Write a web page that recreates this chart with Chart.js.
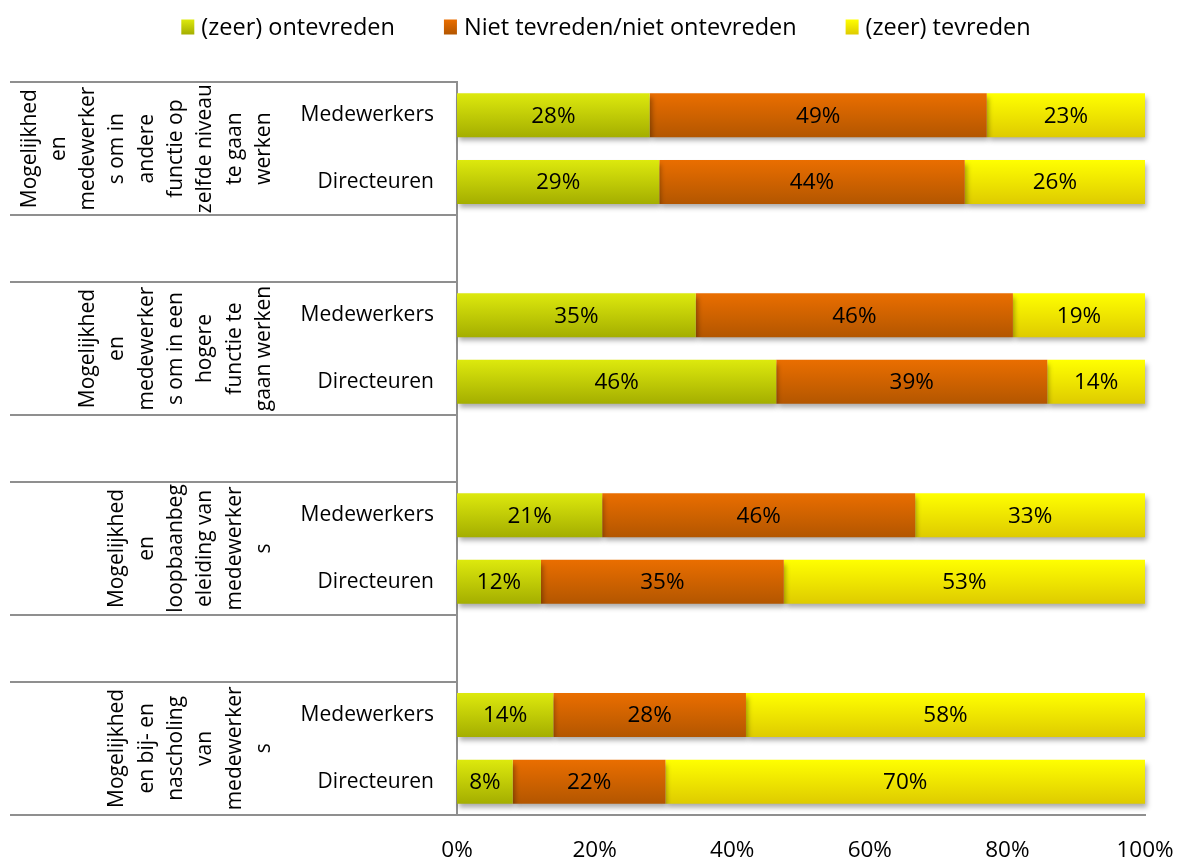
<!DOCTYPE html>
<html><head><meta charset="utf-8">
<script src="https://cdn.jsdelivr.net/npm/chart.js@4"></script>
<style>html,body{margin:0;padding:0;background:#fff}#wrap{width:1179px;height:859px;position:relative}</style>
</head><body><div id="wrap"><canvas id="c" width="1179" height="859"></canvas></div>
<script>
// ---- data ----
const categories = ['Medewerkers','Directeuren','','Medewerkers','Directeuren','','Medewerkers','Directeuren','','Medewerkers','Directeuren'];
const seriesNames = ['(zeer) ontevreden','Niet tevreden/niet ontevreden','(zeer) tevreden'];
const ontevreden = [28, 29.4, null, 34.7, 46.4, null, 21.1, 12.2, null, 14, 8.1];
const neutraal   = [49, 44.4, null, 46.1, 39.4, null, 45.5, 35.3, null, 28, 22.2];
const tevreden   = [23, 26.2, null, 19.2, 14.2, null, 33.4, 52.5, null, 58, 69.7];
const groupLabels = [
  ['Mogelijkhed','en','medewerker','s om in','andere','functie op','zelfde niveau','te gaan','werken'],
  ['Mogelijkhed','en','medewerker','s om in een','hogere','functie te','gaan werken'],
  ['Mogelijkhed','en','loopbaanbeg','eleiding van','medewerker','s'],
  ['Mogelijkhed','en bij- en','nascholing','van','medewerker','s']
];
const groupRows = [[0,1],[3,4],[6,7],[9,10]];
const xTickValues = [0,20,40,60,80,100];

// ---- styles ----
const FONT = '"Open Sans", "DejaVu Sans", sans-serif';
const BAR_PCT = 0.66;
const colors = [
  ['#dde90d', '#a4ae00'],
  ['#ea6e00', '#b35600'],
  ['#ffff00', '#decb00']
];
function grad(top, bottom){
  return (c) => {
    const chart = c.chart; const ys = chart.scales && chart.scales.y;
    if (!ys || !chart.chartArea || c.dataIndex === undefined) return top;
    const step = Math.abs(ys.getPixelForValue(1) - ys.getPixelForValue(0));
    const cy = ys.getPixelForValue(c.dataIndex);
    const h = step * BAR_PCT / 2;
    const g = chart.ctx.createLinearGradient(0, cy - h, 0, cy + h);
    g.addColorStop(0, top); g.addColorStop(1, bottom);
    return g;
  };
}

const decor = {
  id: 'decor',
  beforeDatasetsDraw(chart){
    const ctx = chart.ctx; ctx.save();
    ctx.shadowColor = 'rgba(0,0,0,0.33)'; ctx.shadowBlur = 5; ctx.shadowOffsetX = 2; ctx.shadowOffsetY = 4;
  },
  afterDatasetsDraw(chart){
    const ctx = chart.ctx; ctx.restore();
    ctx.save();
    ctx.font = '22.5px ' + FONT; ctx.fillStyle = '#000'; ctx.textAlign = 'center'; ctx.textBaseline = 'middle';
    chart.data.datasets.forEach((ds, di) => {
      const meta = chart.getDatasetMeta(di);
      meta.data.forEach((el, i) => {
        const v = ds.data[i]; if (v == null) return;
        const p = el.getProps(['x','y','base'], true);
        ctx.fillText(Math.round(v) + '%', (p.x + p.base) / 2, p.y + 1);
      });
    });
    ctx.restore();
  },
  afterDraw(chart){
    const ctx = chart.ctx, ys = chart.scales.y, area = chart.chartArea;
    ctx.save();
    const bounds = new Set();
    groupRows.forEach(r => { bounds.add(r[0] - 0.5); bounds.add(r[1] + 0.5); if (r[1] + 1.5 <= categories.length - 0.5) bounds.add(r[1] + 1.5); });
    ctx.strokeStyle = '#8f8f8f'; ctx.lineWidth = 2;
    bounds.forEach(b => {
      const y = Math.round(ys.getPixelForValue(b));
      ctx.beginPath(); ctx.moveTo(10, y); ctx.lineTo(area.left, y); ctx.stroke();
    });
    ctx.font = '21px ' + FONT; ctx.fillStyle = '#000'; ctx.textAlign = 'center'; ctx.textBaseline = 'middle';
    const lineStep = 29.3, lastX = 264;
    groupLabels.forEach((lines, gi) => {
      const r = groupRows[gi];
      const cy = (ys.getPixelForValue(r[0]) + ys.getPixelForValue(r[1])) / 2;
      lines.forEach((t, li) => {
        const x = lastX - (lines.length - 1 - li) * lineStep;
        ctx.save(); ctx.translate(x, cy); ctx.rotate(-Math.PI / 2); ctx.fillText(t, 0, 0); ctx.restore();
      });
    });
    ctx.font = '23.5px ' + FONT; ctx.textAlign = 'left';
    const boxW = 13, boxH = 15, tg = 7, gap = 49, cyL = 27;
    const widths = chart.data.datasets.map(d => boxW + tg + ctx.measureText(d.label).width);
    const total = widths.reduce((a, b) => a + b, 0) + gap * (widths.length - 1);
    let x = 606 - total / 2;
    chart.data.datasets.forEach((d, i) => {
      const g = ctx.createLinearGradient(0, cyL - boxH / 2, 0, cyL + boxH / 2);
      g.addColorStop(0, colors[i][0]); g.addColorStop(1, colors[i][1]);
      ctx.fillStyle = g; ctx.fillRect(x, cyL - boxH / 2, boxW, boxH);
      ctx.fillStyle = '#000'; ctx.fillText(d.label, x + boxW + tg, cyL + 1);
      x += widths[i] + gap;
    });
    ctx.restore();
  }
};

const seriesData = [ontevreden, neutraal, tevreden];
new Chart(document.getElementById('c'), {
  type: 'bar',
  data: {
    labels: categories,
    datasets: seriesNames.map((n, i) => ({
      label: n, data: seriesData[i],
      backgroundColor: grad(colors[i][0], colors[i][1]),
      borderWidth: 0, categoryPercentage: 1, barPercentage: BAR_PCT, clip: false
    }))
  },
  options: {
    indexAxis: 'y', responsive: false, animation: false,
    devicePixelRatio: 1,
    layout: { padding: { top: 82, right: 34, left: 0, bottom: 0 } },
    plugins: { legend: { display: false }, tooltip: { enabled: false } },
    scales: {
      x: {
        type: 'linear', stacked: true, min: 0, max: 100,
        afterBuildTicks: (s) => { s.ticks = xTickValues.map(v => ({ value: v })); },
        afterFit: (s) => { s.height = 44; s.paddingRight = 0; s.paddingLeft = 0; },
        grid: { display: false, drawTicks: false },
        border: { display: true, color: '#8f8f8f', width: 2 },
        ticks: { padding: 22, color: '#000', font: { family: FONT, size: 22.5 }, callback: (v) => v + '%', maxRotation: 0 }
      },
      y: {
        type: 'category', stacked: true,
        afterFit: (s) => { s.width = 457; },
        grid: { display: false, drawTicks: false },
        border: { display: true, color: '#8f8f8f', width: 2 },
        ticks: { padding: 23, color: '#000', font: { family: FONT, size: 21 }, autoSkip: false }
      }
    }
  },
  plugins: [decor]
});
</script></body></html>
